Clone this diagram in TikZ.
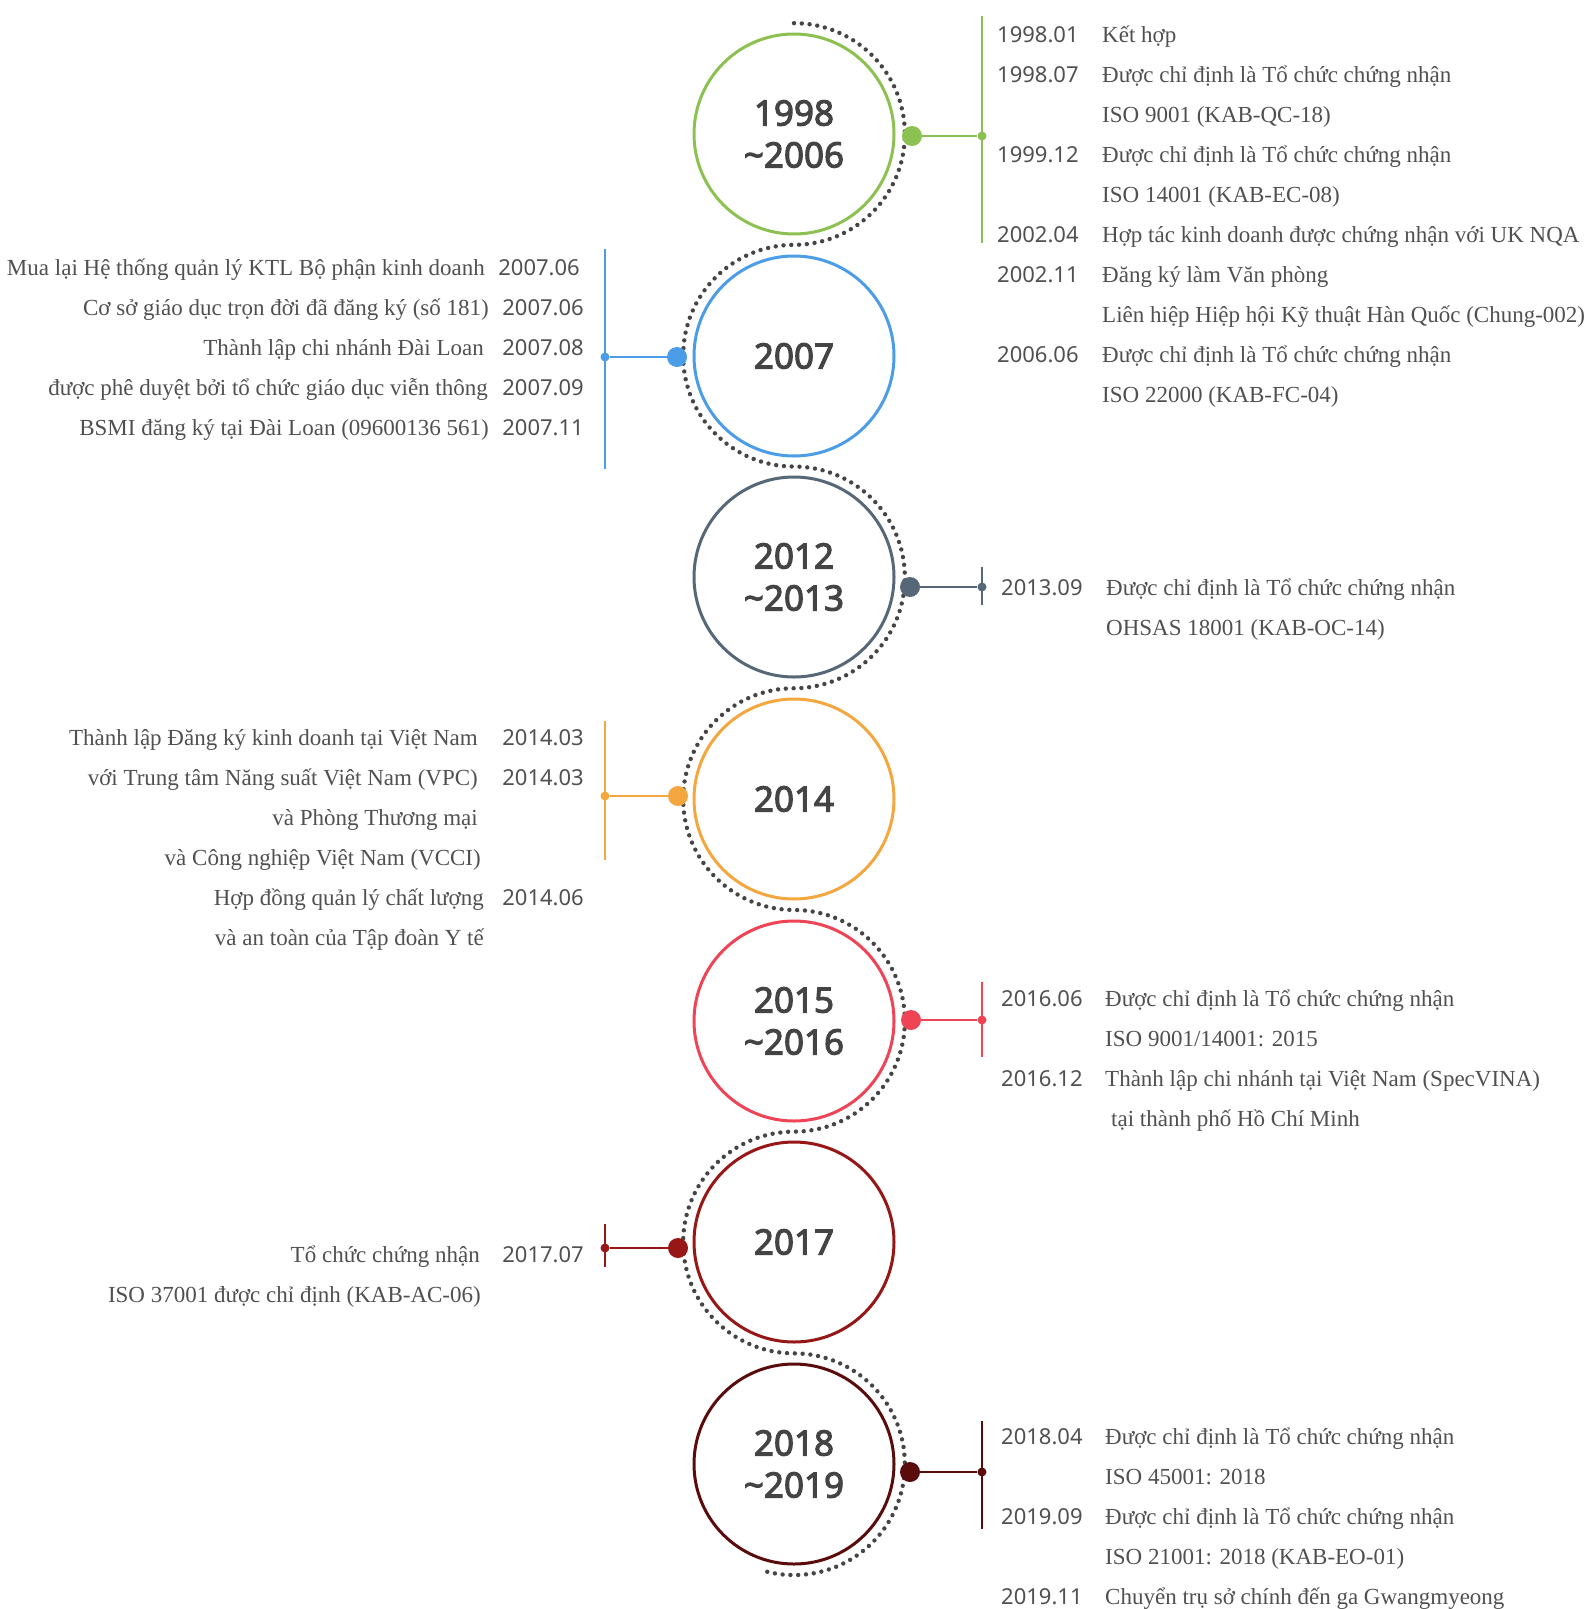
\documentclass[tikz,border=0pt]{standalone}
\usepackage{fontspec}
\setmainfont{Liberation Serif}
\newfontfamily\numfamily{Noto Sans}
\newfontfamily\yrfamily{Noto Sans}[FakeBold=3]
\newcommand\yearfnt{\yrfamily\fontsize{35}{42}\selectfont}
\newcommand\datefnt{\numfamily\fontsize{22}{26}\selectfont}
\newcommand\descfnt{\fontsize{23}{27}\selectfont}

\definecolor{cgreen}{HTML}{8CC152}
\definecolor{cblue}{HTML}{4A9DE6}
\definecolor{cslate}{HTML}{566878}
\definecolor{corange}{HTML}{F4A63F}
\definecolor{cred}{HTML}{EE4455}
\definecolor{cdarkred}{HTML}{971616}
\definecolor{cmaroon}{HTML}{5A0C0C}
\definecolor{yeargrey}{HTML}{444444}
\definecolor{textgrey}{HTML}{505050}
\definecolor{dotgrey}{HTML}{454545}

\tikzset{
  yearcircle/.style={shape=circle,draw=#1,line width=3pt,minimum size=200pt,inner sep=0pt,
    align=center,font=\yearfnt,text=yeargrey},
  bigdot/.style={shape=circle,fill=#1,minimum size=20pt,inner sep=0pt},
  smalldot/.style={shape=circle,fill=#1,minimum size=9pt,inner sep=0pt},
  link/.style={draw=#1,line width=2pt},
  datetext/.style={font=\datefnt,text=textgrey,inner sep=0pt},
  desctext/.style={font=\descfnt,text=textgrey,inner sep=0pt},
  dotline/.style={draw=dotgrey,line width=4.4pt,line cap=round,dash pattern=on 0pt off 7.8pt},
}

\begin{document}
\begin{tikzpicture}[x=1pt,y=1pt]
  \useasboundingbox (0,0) rectangle (1585,-1609);

  % dotted S-line round the circles
  \draw[dotline] (794,-23.15)
    arc[start angle=90,end angle=-90,radius=110.85]
    arc[start angle=90,end angle=270,radius=110.85]
    arc[start angle=90,end angle=-90,radius=110.85]
    arc[start angle=90,end angle=270,radius=110.85]
    arc[start angle=90,end angle=-90,radius=110.85]
    arc[start angle=90,end angle=270,radius=110.85]
    arc[start angle=90,end angle=-105,radius=110.85];

  % year circles
  \node[yearcircle=cgreen,fill=white] (y1) at (794,-134) {1998\\\textasciitilde2006};
  \node[yearcircle=cblue,fill=white] (y2) at (794,-356) {2007};
  \node[yearcircle=cslate,fill=white] (y3) at (794,-577) {2012\\\textasciitilde2013};
  \node[yearcircle=corange,fill=white] (y4) at (794,-799) {2014};
  \node[yearcircle=cred,fill=white] (y5) at (794,-1021) {2015\\\textasciitilde2016};
  \node[yearcircle=cdarkred,fill=white] (y6) at (794,-1242) {2017};
  \node[yearcircle=cmaroon,fill=white] (y7) at (794,-1464) {2018\\\textasciitilde2019};

  % dots and brackets
  \node[bigdot=cgreen] (b1) at (912,-136) {};
  \node[smalldot=cgreen] (s1) at (982,-136) {};
  \coordinate (t1) at (982,-16);
  \coordinate (u1) at (982,-243);
  \node[bigdot=cblue] (b2) at (677,-357) {};
  \node[smalldot=cblue] (s2) at (605,-357) {};
  \coordinate (t2) at (605,-249);
  \coordinate (u2) at (605,-469);
  \node[bigdot=cslate] (b3) at (910,-587) {};
  \node[smalldot=cslate] (s3) at (982,-587) {};
  \coordinate (t3) at (982,-567);
  \coordinate (u3) at (982,-605);
  \node[bigdot=corange] (b4) at (678,-796) {};
  \node[smalldot=corange] (s4) at (605,-796) {};
  \coordinate (t4) at (605,-721);
  \coordinate (u4) at (605,-860);
  \node[bigdot=cred] (b5) at (911,-1020) {};
  \node[smalldot=cred] (s5) at (982,-1020) {};
  \coordinate (t5) at (982,-982);
  \coordinate (u5) at (982,-1057);
  \node[bigdot=cdarkred] (b6) at (678,-1248) {};
  \node[smalldot=cdarkred] (s6) at (605,-1248) {};
  \coordinate (t6) at (605,-1224);
  \coordinate (u6) at (605,-1267);
  \node[bigdot=cmaroon] (b7) at (910,-1472) {};
  \node[smalldot=cmaroon] (s7) at (982,-1472) {};
  \coordinate (t7) at (982,-1421);
  \coordinate (u7) at (982,-1529);

  \draw[link=cgreen] (b1) -- (s1);
  \draw[link=cgreen] (t1) -- (u1);
  \draw[link=cblue] (b2) -- (s2);
  \draw[link=cblue] (t2) -- (u2);
  \draw[link=cslate] (b3) -- (s3);
  \draw[link=cslate] (t3) -- (u3);
  \draw[link=corange] (b4) -- (s4);
  \draw[link=corange] (t4) -- (u4);
  \draw[link=cred] (b5) -- (s5);
  \draw[link=cred] (t5) -- (u5);
  \draw[link=cdarkred] (b6) -- (s6);
  \draw[link=cdarkred] (t6) -- (u6);
  \draw[link=cmaroon] (b7) -- (s7);
  \draw[link=cmaroon] (t7) -- (u7);

  % 1998 ~ 2006
  \node[datetext,anchor=base west] (d1a) at (997,-42) {1998.01};
  \node[desctext,anchor=base west] (e1a) at (1102,-42) {Kết hợp};
  \node[datetext,anchor=base west] (d1b) at (997,-82) {1998.07};
  \node[desctext,anchor=base west] (e1b) at (1102,-82) {Được chỉ định là Tổ chức chứng nhận};
  \node[desctext,anchor=base west] (e1c) at (1102,-122) {ISO 9001 (KAB-QC-18)};
  \node[datetext,anchor=base west] (d1d) at (997,-162) {1999.12};
  \node[desctext,anchor=base west] (e1d) at (1102,-162) {Được chỉ định là Tổ chức chứng nhận};
  \node[desctext,anchor=base west] (e1e) at (1102,-202) {ISO 14001 (KAB-EC-08)};
  \node[datetext,anchor=base west] (d1f) at (997,-242) {2002.04};
  \node[desctext,anchor=base west] (e1f) at (1102,-242) {Hợp tác kinh doanh được chứng nhận với UK NQA};
  \node[datetext,anchor=base west] (d1g) at (997,-282) {2002.11};
  \node[desctext,anchor=base west] (e1g) at (1102,-282) {Đăng ký làm Văn phòng};
  \node[desctext,anchor=base west] (e1h) at (1102,-322) {Liên hiệp Hiệp hội Kỹ thuật Hàn Quốc (Chung-002)};
  \node[datetext,anchor=base west] (d1i) at (997,-362) {2006.06};
  \node[desctext,anchor=base west] (e1i) at (1102,-362) {Được chỉ định là Tổ chức chứng nhận};
  \node[desctext,anchor=base west] (e1j) at (1102,-402) {ISO 22000 (KAB-FC-04)};

  % 2007
  \node[desctext,anchor=base east] (e2a) at (485,-275) {Mua lại Hệ thống quản lý KTL Bộ phận kinh doanh};
  \node[datetext,anchor=base east] (d2a) at (580,-275) {2007.06};
  \node[desctext,anchor=base east] (e2b) at (489,-315) {Cơ sở giáo dục trọn đời đã đăng ký (số 181)};
  \node[datetext,anchor=base east] (d2b) at (584,-315) {2007.06};
  \node[desctext,anchor=base east] (e2c) at (484,-355) {Thành lập chi nhánh Đài Loan};
  \node[datetext,anchor=base east] (d2c) at (584,-355) {2007.08};
  \node[desctext,anchor=base east] (e2d) at (488,-395) {được phê duyệt bởi tổ chức giáo dục viễn thông};
  \node[datetext,anchor=base east] (d2d) at (584,-395) {2007.09};
  \node[desctext,anchor=base east] (e2e) at (489,-435) {BSMI đăng ký tại Đài Loan (09600136 561)};
  \node[datetext,anchor=base east] (d2e) at (584,-435) {2007.11};

  % 2012 ~ 2013
  \node[datetext,anchor=base west] (d3a) at (1001,-595) {2013.09};
  \node[desctext,anchor=base west] (e3a) at (1106,-595) {Được chỉ định là Tổ chức chứng nhận};
  \node[desctext,anchor=base west] (e3b) at (1106,-635) {OHSAS 18001 (KAB-OC-14)};

  % 2014
  \node[desctext,anchor=base east] (e4a) at (478,-745) {Thành lập Đăng ký kinh doanh tại Việt Nam};
  \node[datetext,anchor=base east] (d4a) at (584,-745) {2014.03};
  \node[desctext,anchor=base east] (e4b) at (478,-785) {với Trung tâm Năng suất Việt Nam (VPC)};
  \node[datetext,anchor=base east] (d4b) at (584,-785) {2014.03};
  \node[desctext,anchor=base east] (e4c) at (478,-825) {và Phòng Thương mại};
  \node[desctext,anchor=base east] (e4d) at (481,-865) {và Công nghiệp Việt Nam (VCCI)};
  \node[desctext,anchor=base east] (e4e) at (484,-905) {Hợp đồng quản lý chất lượng};
  \node[datetext,anchor=base east] (d4e) at (584,-905) {2014.06};
  \node[desctext,anchor=base east] (e4f) at (484,-945) {và an toàn của Tập đoàn Y tế};

  % 2015 ~ 2016
  \node[datetext,anchor=base west] (d5a) at (1001,-1006) {2016.06};
  \node[desctext,anchor=base west] (e5a) at (1105,-1006) {Được chỉ định là Tổ chức chứng nhận};
  \node[desctext,anchor=base west] (e5b) at (1105,-1046) {ISO 9001/14001: 2015};
  \node[datetext,anchor=base west] (d5c) at (1001,-1086) {2016.12};
  \node[desctext,anchor=base west] (e5c) at (1105,-1086) {Thành lập chi nhánh tại Việt Nam (SpecVINA)};
  \node[desctext,anchor=base west] (e5d) at (1111,-1126) {tại thành phố Hồ Chí Minh};

  % 2017
  \node[desctext,anchor=base east] (e6a) at (480,-1262) {Tổ chức chứng nhận};
  \node[datetext,anchor=base east] (d6a) at (584,-1262) {2017.07};
  \node[desctext,anchor=base east] (e6b) at (481,-1302) {ISO 37001 được chỉ định (KAB-AC-06)};

  % 2018 ~ 2019
  \node[datetext,anchor=base west] (d7a) at (1001,-1444) {2018.04};
  \node[desctext,anchor=base west] (e7a) at (1105,-1444) {Được chỉ định là Tổ chức chứng nhận};
  \node[desctext,anchor=base west] (e7b) at (1105,-1484) {ISO 45001: 2018};
  \node[datetext,anchor=base west] (d7c) at (1001,-1524) {2019.09};
  \node[desctext,anchor=base west] (e7c) at (1105,-1524) {Được chỉ định là Tổ chức chứng nhận};
  \node[desctext,anchor=base west] (e7d) at (1105,-1564) {ISO 21001: 2018 (KAB-EO-01)};
  \node[datetext,anchor=base west] (d7e) at (1001,-1604) {2019.11};
  \node[desctext,anchor=base west] (e7e) at (1105,-1604) {Chuyển trụ sở chính đến ga Gwangmyeong};
\end{tikzpicture}
\end{document}
